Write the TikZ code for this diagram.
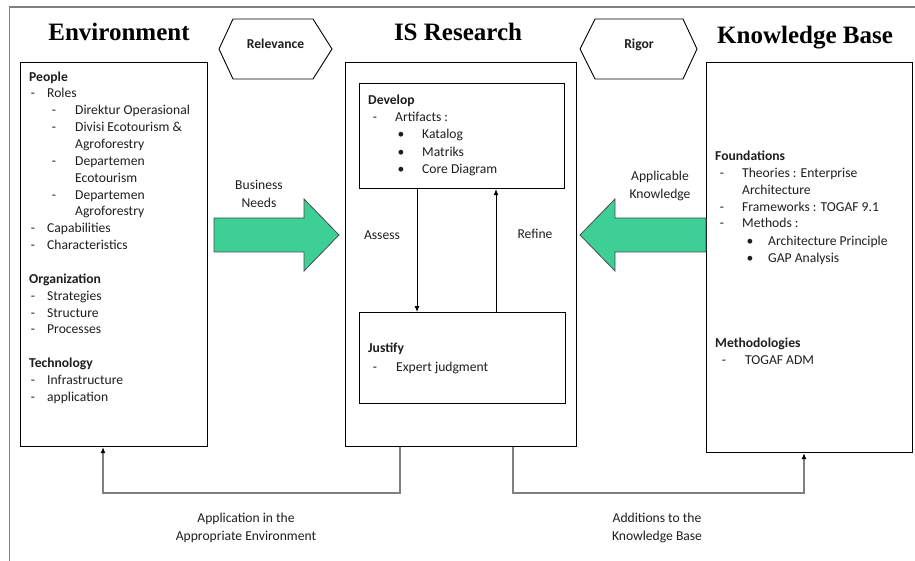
\documentclass[tikz,border=0pt]{standalone}
\usepackage{fontspec}
\setmainfont{Carlito}
\newfontfamily\serifttl{Liberation Serif}
\usetikzlibrary{arrows.meta}
\definecolor{arrowgreen}{HTML}{3ECF96}
\definecolor{framegray}{HTML}{808080}
\definecolor{textc}{HTML}{1E1E1E}
\newcommand\bodyfont{\fontsize{13.6pt}{18pt}\selectfont}
\begin{document}
\begin{tikzpicture}[x=1pt,y=-1pt,
 box/.style={draw=black, line width=1.1pt, anchor=north west, inner sep=0pt},
 txt/.style={inner sep=0pt, anchor=base west, font=\bodyfont, text=textc},
 dsh/.style={inner sep=0pt, anchor=base, font=\bodyfont, text=textc},
 btxt/.style={inner sep=0pt, anchor=base west, font=\bodyfont\bfseries, text=textc},
 htxt/.style={inner sep=0pt, anchor=base, font=\bodyfont\bfseries, text=textc},
 titletxt/.style={inner sep=0pt, anchor=base, font=\serifttl\bfseries\fontsize{25pt}{30pt}\selectfont},
 lbl/.style={inner sep=0pt, align=center, font=\bodyfont, text=textc},
 hexline/.style={draw=black, line width=0.9pt},
 greenarrow/.style={fill=arrowgreen, draw=black!70, line width=0.8pt, line join=miter},
 flow/.style={draw=black, line width=1pt, -{Latex[length=6pt,width=5pt]}},
 feedback/.style={draw=framegray, line width=1.4pt, -{Latex[length=6pt,width=5pt,black]}}
]
\useasboundingbox (0,0) rectangle (915,561);
% frame
\draw[framegray, line width=1.8pt] (9.5,561) -- (9.5,7) -- (915,7);

% titles
\node[titletxt] (t-env) at (119,41) {Environment};
\node[titletxt] (t-isr) at (458,40.5) {IS Research};
\node[titletxt] (t-kb) at (805,43.5) {Knowledge Base};

% hexagons
\draw[hexline] (219,49) -- (233,19) -- (313,19) -- (332,49) -- (313,79) -- (233,79) -- cycle;
\node[htxt] (relevance) at (275.5,49) {Relevance};
\draw[hexline] (580,49) -- (595,19) -- (683,19) -- (697,49) -- (683,79) -- (595,79) -- cycle;
\node[htxt] (rigor) at (639,49) {Rigor};

% boxes
\node[box, minimum width=187pt, minimum height=384pt] (env) at (20,62) {};
\node[box, minimum width=231pt, minimum height=384pt] (isr) at (345,62) {};
\node[box, minimum width=205pt, minimum height=105pt] (dev) at (359,83) {};
\node[box, minimum width=206pt, minimum height=91pt] (jus) at (359,312) {};
\node[box, minimum width=206pt, minimum height=390pt] (kb) at (706,62) {};

% environment text
\node[btxt] (e-people) at (29,81.5) {People};
\node[dsh] (e-d1) at (33,97.5) {-};
\node[txt] (e-roles) at (47,97.5) {Roles};
\node[dsh] (e-d2) at (54,114.5) {-};
\node[txt] (e-dir) at (75,114.5) {Direktur Operasional};
\node[dsh] (e-d3) at (54,131.5) {-};
\node[txt] (e-div) at (75,131.5) {Divisi Ecotourism \&};
\node[txt] (e-div2) at (75,148.5) {Agroforestry};
\node[dsh] (e-d4) at (54,165.5) {-};
\node[txt] (e-dep1) at (75,165.5) {Departemen};
\node[txt] (e-dep1b) at (75,182.5) {Ecotourism};
\node[dsh] (e-d5) at (54,199.5) {-};
\node[txt] (e-dep2) at (75,199.5) {Departemen};
\node[txt] (e-dep2b) at (75,216) {Agroforestry};
\node[dsh] (e-d6) at (33,232.5) {-};
\node[txt] (e-cap) at (47,232.5) {Capabilities};
\node[dsh] (e-d7) at (33,249.5) {-};
\node[txt] (e-char) at (47,249.5) {Characteristics};
\node[btxt] (e-org) at (29,283.5) {Organization};
\node[dsh] (e-d8) at (33,300.5) {-};
\node[txt] (e-str) at (47,300.5) {Strategies};
\node[dsh] (e-d9) at (33,317.5) {-};
\node[txt] (e-stc) at (47,317.5) {Structure};
\node[dsh] (e-d10) at (33,333.5) {-};
\node[txt] (e-proc) at (47,333.5) {Processes};
\node[btxt] (e-tech) at (29,367.5) {Technology};
\node[dsh] (e-d11) at (33,384.5) {-};
\node[txt] (e-inf) at (47,384.5) {Infrastructure};
\node[dsh] (e-d12) at (33,401.5) {-};
\node[txt] (e-app) at (47,401.5) {application};

% develop text
\node[btxt] (d-dev) at (368,105) {Develop};
\node[dsh] (d-d1) at (375,121.5) {-};
\node[txt] (d-art) at (395,121.5) {Artifacts :};
\node[dsh] (d-b1) at (401,139) {\textbullet};
\node[txt] (d-kat) at (422,139) {Katalog};
\node[dsh] (d-b2) at (401,156.5) {\textbullet};
\node[txt] (d-mat) at (422,156.5) {Matriks};
\node[dsh] (d-b3) at (401,173.5) {\textbullet};
\node[txt] (d-core) at (422,173.5) {Core Diagram};

% justify text
\node[btxt] (j-jus) at (368,352.5) {Justify};
\node[dsh] (j-d1) at (375,371.5) {-};
\node[txt] (j-exp) at (396,371.5) {Expert judgment};

% knowledge base text
\node[btxt] (k-found) at (715,160.5) {Foundations};
\node[dsh] (k-d1) at (722,177.5) {-};
\node[txt] (k-theo) at (742,177.5) {Theories : Enterprise};
\node[txt] (k-theo2) at (742,194.5) {Architecture};
\node[dsh] (k-d2) at (722,211.5) {-};
\node[txt] (k-frame) at (742,211.5) {Frameworks : TOGAF 9.1};
\node[dsh] (k-d3) at (722,227.5) {-};
\node[txt] (k-meth) at (742,227.5) {Methods :};
\node[dsh] (k-b1) at (750,245.5) {\textbullet};
\node[txt] (k-ap) at (768,245.5) {Architecture Principle};
\node[dsh] (k-b2) at (750,262.5) {\textbullet};
\node[txt] (k-gap) at (768,262.5) {GAP Analysis};
\node[btxt] (k-methd) at (715,347.5) {Methodologies};
\node[dsh] (k-d4) at (724,364.5) {-};
\node[txt] (k-adm) at (745,364.5) {TOGAF ADM};

% green arrows
\draw[greenarrow] (214,218) -- (304,218) -- (304,199) -- (339,235) -- (304,271) -- (304,252) -- (214,252) -- cycle;
\draw[greenarrow] (706,218) -- (615,218) -- (615,199) -- (580,235) -- (615,271) -- (615,252) -- (706,252) -- cycle;

% labels
\node[lbl] (l-bn) at (259,194) {Business\\Needs};
\node[lbl] (l-ak) at (660,186) {Applicable\\Knowledge};
\node[lbl] (l-as) at (382,235) {Assess};
\node[lbl] (l-rf) at (535,234) {Refine};
\node[lbl] (l-app) at (246,528) {Application in the\\Appropriate Environment};
\node[lbl] (l-add) at (657,528) {Additions to the\\Knowledge Base};

% inner flows
\draw[flow] ([xshift=58pt]dev.south west) -- ([xshift=58pt]jus.north west);
\draw[flow] ([xshift=137pt]jus.north west) -- ([xshift=137pt]dev.south west);

% feedback connectors
\draw[feedback] ([xshift=55pt]isr.south west) |- ([xshift=83pt,yshift=-46pt]env.south west) -- ([xshift=83pt]env.south west);
\draw[feedback] ([xshift=168pt]isr.south west) |- ([xshift=98pt,yshift=-40pt]kb.south west) -- ([xshift=98pt]kb.south west);
\end{tikzpicture}
\end{document}
